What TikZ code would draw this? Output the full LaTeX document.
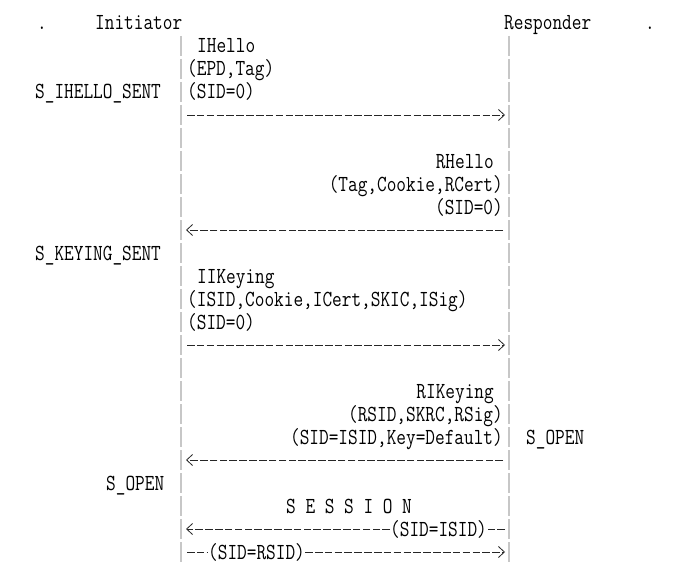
\documentclass[tikz,border=0pt]{standalone}
\usepackage{fontspec}
\usepackage{graphicx}
\usetikzlibrary{arrows.meta}
\newcommand\mtxt[1]{\scalebox{0.816}[1]{#1}}
\begin{document}
\begin{tikzpicture}[x=1pt,y=-1pt,
  txt/.style={font=\ttfamily\fontsize{23}{23}\selectfont, inner sep=0pt, text=black},
  lt/.style={txt, anchor=base west},
  rt/.style={txt, anchor=base east},
  lifeline/.style={draw=black!22, line width=2pt, dash pattern=on 20pt off 3pt},
  msg/.style={draw=black!85, line width=0.9pt, dash pattern=on 7.6pt off 2.25pt},
  tip/.style={-{Straight Barb[length=6pt,width=11pt,line width=0.8pt]}}]
\useasboundingbox[fill=white] (0,0) rectangle (676,580);
% lifelines
\coordinate (Ltop) at (181,36); \coordinate (Lbot) at (181,563.5);
\coordinate (Rtop) at (509,36); \coordinate (Rbot) at (509,563.5);
\draw[lifeline] (Ltop) -- (Lbot);
\draw[lifeline] (Rtop) -- (Rbot);
% header
\node[lt] (d1) at (37,30) {\mtxt{.}};
\node[lt] (ini) at (95,30) {\mtxt{Initiator}};
\node[lt] (res) at (504,30) {\mtxt{Responder}};
\node[lt] (d2) at (645,30) {\mtxt{.}};
% IHello
\node[lt] (m1a) at (197,53) {\mtxt{IHello}};
\node[lt] (m1b) at (187,76) {\mtxt{(EPD,Tag)}};
\node[lt] (m1c) at (187,99) {\mtxt{(SID=0)}};
\node[lt] (st1) at (35,99) {\mtxt{S\_IHELLO\_SENT}};
\coordinate (a1s) at (187,115); \coordinate (a1e) at (505,115);
\draw[msg,tip] (a1s) -- (a1e);
% RHello
\node[rt] (m2a) at (494,168) {\mtxt{RHello}};
\node[rt] (m2b) at (503,191) {\mtxt{(Tag,Cookie,RCert)}};
\node[rt] (m2c) at (503,214) {\mtxt{(SID=0)}};
\coordinate (a2s) at (503,230); \coordinate (a2e) at (186,230);
\draw[msg,tip] (a2s) -- (a2e);
\node[lt] (st2) at (35,260) {\mtxt{S\_KEYING\_SENT}};
% IIKeying
\node[lt] (m3a) at (197,283) {\mtxt{IIKeying}};
\node[lt] (m3b) at (187,306) {\mtxt{(ISID,Cookie,ICert,SKIC,ISig)}};
\node[lt] (m3c) at (187,329) {\mtxt{(SID=0)}};
\coordinate (a3s) at (187,345); \coordinate (a3e) at (505,345);
\draw[msg,tip] (a3s) -- (a3e);
% RIKeying
\node[rt] (m4a) at (494,398) {\mtxt{RIKeying}};
\node[rt] (m4b) at (503,421) {\mtxt{(RSID,SKRC,RSig)}};
\node[rt] (m4c) at (503,444) {\mtxt{(SID=ISID,Key=Default)}};
\node[lt] (st3) at (526,444) {\mtxt{S\_OPEN}};
\coordinate (a4s) at (503,460); \coordinate (a4e) at (186,460);
\draw[msg,tip] (a4s) -- (a4e);
\node[lt] (st4) at (106,490) {\mtxt{S\_OPEN}};
% session
\node[lt] (ses) at (286,513) {\mtxt{S E S S I O N}};
\coordinate (a5s) at (505,529); \coordinate (a5e) at (186,529);
\node[lt] (l5) at (390,536) {\mtxt{(SID=ISID)}};
\draw[msg] (a5s) -- (l5.east |- a5s);
\draw[msg,tip] (l5.west |- a5s) -- (a5e);
\coordinate (a6s) at (187,552); \coordinate (a6e) at (505,552);
\node[lt] (l6) at (208,559) {\mtxt{(SID=RSID)}};
\draw[msg] (a6s) -- (l6.west |- a6s);
\draw[msg,tip] (l6.east |- a6s) -- (a6e);
\end{tikzpicture}
\end{document}
